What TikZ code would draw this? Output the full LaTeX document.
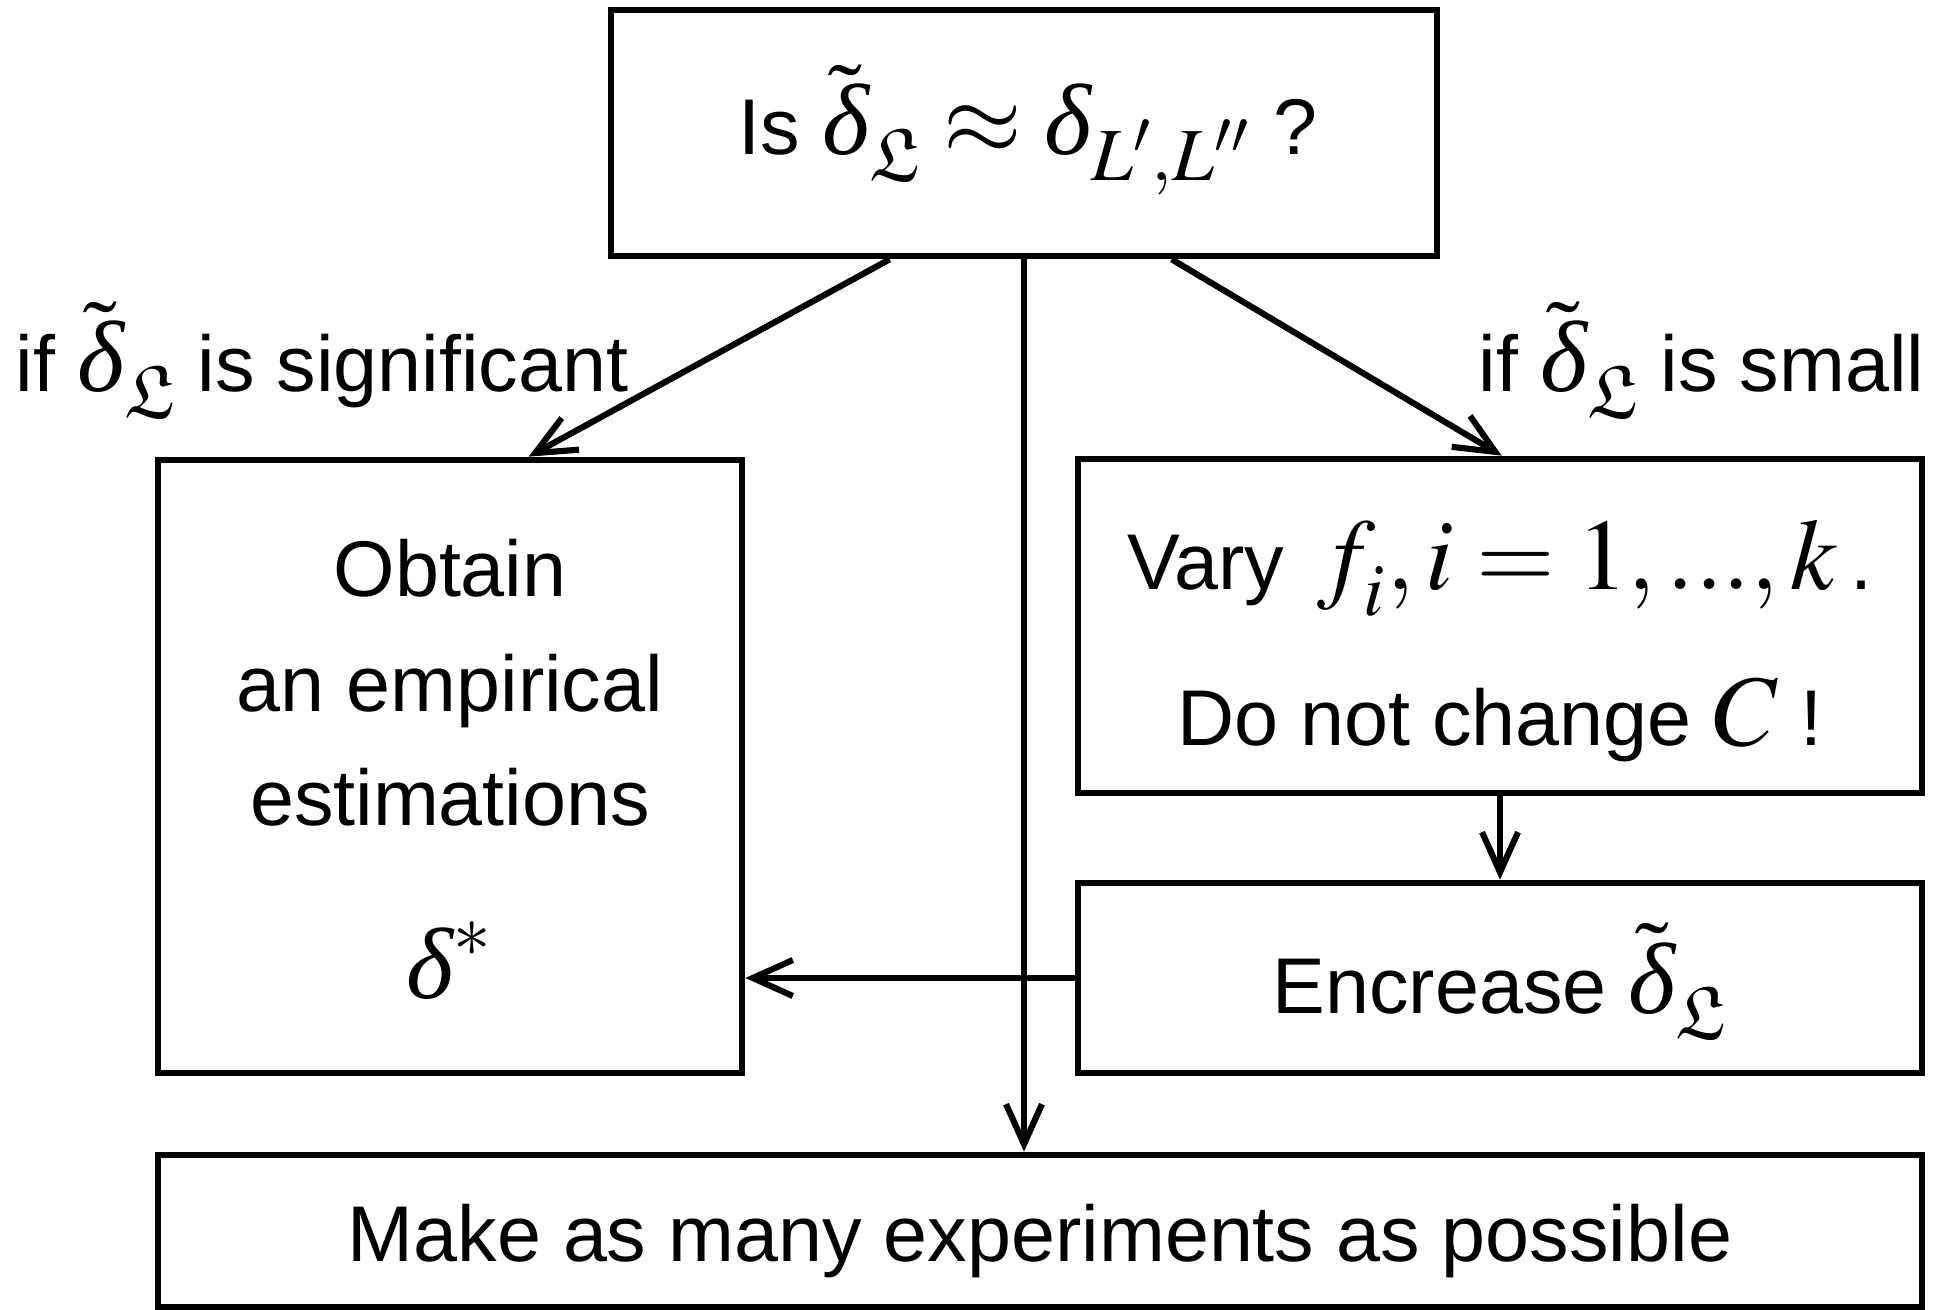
\documentclass[tikz,border=0pt]{standalone}
\usepackage{mathptmx}
\usepackage{amsfonts}
\usepackage[no-math]{fontspec}
\setmainfont{Liberation Sans}
\newfontfamily\tmsfont{Liberation Serif}
\usetikzlibrary{arrows.meta,calc,fit}
\newcommand\mth[1]{{\fontsize{28.8}{32}\selectfont$#1$}}
\newcommand\dd{\hbox{\tmsfont\itshape δ}}
\newcommand\lsub[1]{_{\lower3pt\hbox{$\scriptstyle #1$}}}
\newcommand\dtl{\tilde{\dd}\lsub{\mathfrak{L}}}
\tikzset{
  boxnode/.style={draw, line width=1.9pt, inner sep=0pt, rectangle},
  txt/.style={inner sep=0pt, font=\fontsize{22.5}{27}\selectfont},
  arr/.style={line width=1.75pt, -{Straight Barb[length=4mm,width=3.6mm]}}
}
\begin{document}
\begin{tikzpicture}[x=0.1mm,y=-0.1mm]
\useasboundingbox (0,0) rectangle (1950,1310);
% boxes
\node[boxnode, fit={(611,10) (1437,256)}] (top) {};
\node[boxnode, fit={(158,460) (742,1073)}] (left) {};
\node[boxnode, fit={(1078,459) (1922,793)}] (rtop) {};
\node[boxnode, fit={(1078,883) (1922,1073)}] (rmid) {};
\node[boxnode, fit={(158,1155) (1922,1307)}] (bottom) {};
% texts
\node[txt, anchor=base] (q) at (1028,155) {Is \mth{\dtl \approx \dd\lsub{L',L''}} ?};
\node[txt, anchor=base west] (lsig) at (15,392) {if \mth{\dtl} is significant};
\node[txt, anchor=base east] (lsmall) at (1925,392) {if \mth{\dtl} is small};
\node[txt, anchor=base] (l1) at (450,597) {Obtain};
\node[txt, anchor=base] (l2) at (450,711) {an empirical};
\node[txt, anchor=base] (l3) at (450,825) {estimations};
\node[txt, anchor=base] (l4) at (450,998) {\mth{\dd^{*}}};
\node[txt, anchor=base] (v1) at (1500,590) {Vary \mth{\,f\lsub{i}, i = 1, ..., k}\,.};
\node[txt, anchor=base] (v2) at (1500,745) {Do not change \mth{C} !};
\node[txt, anchor=base] (e1) at (1500,1013) {Encrease \mth{\dtl}};
\node[txt, anchor=base] (m1) at (1040,1261) {Make as many experiments as possible};
% connectors
\draw[arr] ($(top.south west)+(282,0)$) -- ($(left.north west)+(374,0)$);
\draw[arr] ($(top.south west)+(564,0)$) -- ($(rtop.north west)+(427,0)$);
\draw[arr] (top.south) -- (top.south |- bottom.north);
\draw[arr] (rtop.south) -- (rmid.north);
\draw[arr] (rmid.west) -- (rmid.west -| left.east);
\end{tikzpicture}
\end{document}
